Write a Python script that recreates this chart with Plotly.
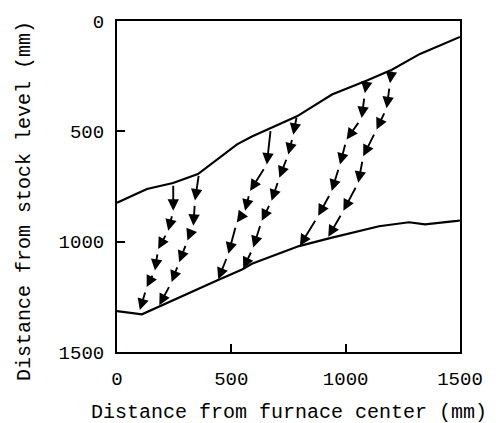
import plotly.graph_objects as go

# Boundary lines (distance from furnace center, distance from stock level) in mm
upper_x = [0, 131, 245, 354, 525, 590, 787, 940, 1093, 1202, 1325, 1500]
upper_y = [824, 761, 734, 694, 559, 523, 432, 333, 270, 221, 149, 72]

lower_x = [0, 109, 437, 547, 590, 796, 927, 1146, 1277, 1347, 1487, 1500]
lower_y = [1315, 1329, 1176, 1126, 1100, 1020, 985, 930, 912, 922, 906, 904]

# Dashed descent paths (nodes between successive arrows)
path1_x = [246, 246, 224, 180, 166, 130, 100]
path1_y = [740, 860, 950, 1033, 1131, 1206, 1310]
path2_x = [358, 341, 334, 308, 272, 239, 185]
path2_y = [695, 813, 928, 995, 1093, 1183, 1288]
path3_x = [672, 655, 582, 560, 524, 487, 443]
path3_y = [492, 650, 770, 860, 913, 1055, 1170]
path4_x = [786, 771, 749, 710, 676, 633, 596, 552]
path4_y = [432, 515, 605, 710, 815, 905, 1026, 1122]
path5_x = [1092, 1084, 1070, 1004, 975, 939, 880, 800]
path5_y = [275, 327, 440, 537, 650, 770, 883, 1018]
path6_x = [1201, 1194, 1179, 1135, 1077, 1055, 990, 924]
path6_y = [222, 282, 395, 492, 613, 733, 860, 978]

paths = [(path1_x, path1_y), (path2_x, path2_y), (path3_x, path3_y),
         (path4_x, path4_y), (path5_x, path5_y), (path6_x, path6_y)]

tick_vals = [0, 500, 1000, 1500]
tick_text = ["0", "500", "1000", "1500"]

fig = go.Figure()
fig.add_trace(go.Scatter(x=upper_x, y=upper_y, mode="lines",
                         line=dict(color="black", width=2.2), showlegend=False))
fig.add_trace(go.Scatter(x=lower_x, y=lower_y, mode="lines",
                         line=dict(color="black", width=2.2), showlegend=False))

annotations = []
for px, py in paths:
    for i in range(len(px) - 1):
        annotations.append(dict(
            x=px[i + 1], y=py[i + 1], ax=px[i], ay=py[i],
            xref="x", yref="y", axref="x", ayref="y",
            text="", showarrow=True, arrowhead=2, arrowsize=1.2,
            arrowwidth=1.9, arrowcolor="black", standoff=0,
            startstandoff=4 if i > 0 else 0))

mono = "Liberation Mono, Courier New, monospace"
annotations.append(dict(text="Distance from furnace center (mm)", xref="paper", yref="paper",
                        x=0.5, y=-0.183, xanchor="center", yanchor="middle",
                        showarrow=False, font=dict(family=mono, size=20, color="black")))
annotations.append(dict(text="Distance from stock level (mm)", xref="paper", yref="paper",
                        x=-0.271, y=0.456, xanchor="center", yanchor="middle", textangle=-90,
                        showarrow=False, font=dict(family=mono, size=20, color="black")))

axis_common = dict(showgrid=False, zeroline=False, showline=True, linecolor="black",
                   linewidth=2, mirror=True, ticks="inside", ticklen=8, tickwidth=2,
                   tickcolor="black", tickvals=tick_vals, ticktext=tick_text,
                   tickfont=dict(family=mono, size=19, color="black"))

fig.update_layout(
    width=504, height=423,
    margin=dict(l=117, r=44, t=19, b=71),
    paper_bgcolor="white", plot_bgcolor="white",
    xaxis=dict(range=[0, 1500], ticklabelstandoff=8, **axis_common),
    yaxis=dict(range=[1500, 0], ticklabelstandoff=7, **axis_common),
    annotations=annotations,
)

fig.write_html("out.html", config={"displayModeBar": False},
               post_script="document.body.style.margin='0';")
